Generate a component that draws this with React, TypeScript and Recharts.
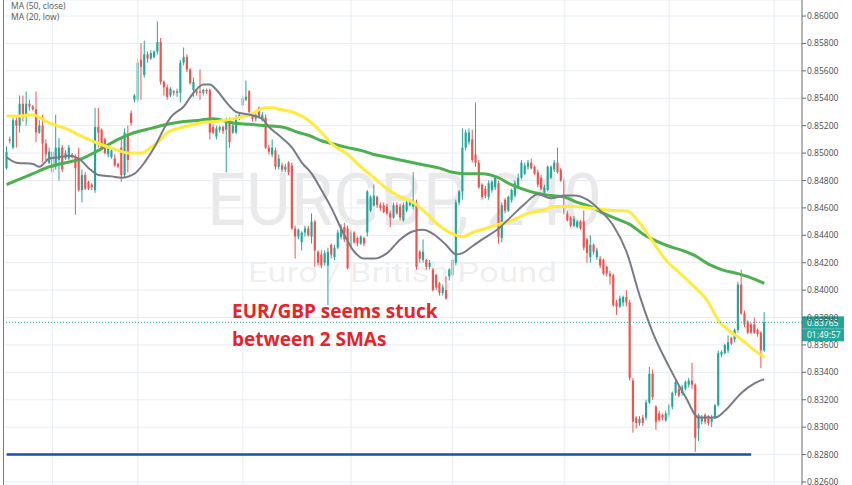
import React from 'react';
import { ComposedChart, Bar, Line, XAxis, YAxis, CartesianGrid, ReferenceLine } from 'recharts';

const W = 852;
const H = 485;

const opens = [
  0.8489,0.8510,0.8504,0.8524,0.8520,0.8536,0.8528,0.8536,0.8534,0.8532,0.8515,0.8520,0.8507,0.8493,0.8501,0.8490,0.8495,0.8504,0.8496,0.8496,
  0.8499,0.8497,0.8495,0.8473,0.8484,0.8479,0.8477,0.8473,0.8519,0.8517,0.8510,0.8499,0.8497,0.8496,0.8492,0.8504,0.8484,0.8513,0.8529,0.8539,
  0.8539,0.8568,0.8557,0.8572,0.8569,0.8570,0.8574,0.8581,0.8552,0.8548,0.8542,0.8545,0.8544,0.8544,0.8566,0.8570,0.8561,0.8546,0.8545,0.8545,
  0.8544,0.8546,0.8546,0.8519,0.8512,0.8517,0.8519,0.8517,0.8524,0.8515,0.8515,0.8526,0.8535,0.8539,0.8545,0.8528,0.8525,0.8533,0.8524,0.8526,
  0.8504,0.8499,0.8502,0.8490,0.8491,0.8488,0.8493,0.8491,0.8445,0.8439,0.8435,0.8442,0.8445,0.8439,0.8450,0.8428,0.8426,0.8420,0.8418,0.8433,
  0.8424,0.8431,0.8439,0.8446,0.8445,0.8431,0.8442,0.8438,0.8434,0.8438,0.8442,0.8458,0.8462,0.8468,0.8462,0.8462,0.8461,0.8456,0.8453,0.8462,
  0.8461,0.8451,0.8458,0.8462,0.8461,0.8464,0.8428,0.8422,0.8422,0.8417,0.8415,0.8411,0.8405,0.8398,0.8400,0.8410,0.8411,0.8420,0.8464,0.8472,
  0.8504,0.8508,0.8510,0.8499,0.8493,0.8477,0.8474,0.8468,0.8473,0.8475,0.8478,0.8438,0.8466,0.8458,0.8466,0.8469,0.8475,0.8482,0.8485,0.8490,
  0.8493,0.8490,0.8486,0.8482,0.8471,0.8473,0.8482,0.8488,0.8493,0.8488,0.8480,0.8456,0.8453,0.8447,0.8446,0.8450,0.8450,0.8437,0.8424,0.8433,
  0.8424,0.8423,0.8422,0.8417,0.8412,0.8411,0.8391,0.8388,0.8391,0.8395,0.8391,0.8334,0.8307,0.8303,0.8307,0.8307,0.8318,0.8339,0.8315,0.8310,
  0.8309,0.8305,0.8309,0.8315,0.8325,0.8328,0.8325,0.8328,0.8331,0.8334,0.8331,0.8299,0.8304,0.8309,0.8308,0.8304,0.8307,0.8316,0.8353,0.8354,
  0.8356,0.8365,0.8364,0.8371,0.8404,0.8383,0.8377,0.8375,0.8375,0.8371,0.8369,0.8356,
];
const highs = [
  0.8505,0.8512,0.8526,0.8526,0.8542,0.8542,0.8545,0.8539,0.8535,0.8545,0.8524,0.8528,0.8510,0.8504,0.8502,0.8528,0.8511,0.8506,0.8502,0.8506,
  0.8500,0.8499,0.8504,0.8488,0.8486,0.8480,0.8478,0.8533,0.8533,0.8518,0.8511,0.8506,0.8504,0.8499,0.8493,0.8511,0.8518,0.8520,0.8531,0.8543,
  0.8569,0.8580,0.8582,0.8574,0.8575,0.8575,0.8596,0.8584,0.8553,0.8550,0.8548,0.8546,0.8547,0.8568,0.8577,0.8572,0.8562,0.8555,0.8547,0.8561,
  0.8547,0.8547,0.8547,0.8521,0.8520,0.8520,0.8520,0.8526,0.8526,0.8523,0.8528,0.8530,0.8542,0.8553,0.8546,0.8529,0.8529,0.8534,0.8530,0.8528,
  0.8506,0.8510,0.8504,0.8499,0.8493,0.8492,0.8494,0.8493,0.8447,0.8445,0.8443,0.8447,0.8447,0.8456,0.8451,0.8429,0.8429,0.8429,0.8431,0.8434,
  0.8433,0.8444,0.8448,0.8449,0.8447,0.8444,0.8443,0.8439,0.8440,0.8439,0.8473,0.8469,0.8477,0.8469,0.8464,0.8464,0.8463,0.8458,0.8464,0.8464,
  0.8463,0.8464,0.8466,0.8466,0.8486,0.8466,0.8429,0.8437,0.8423,0.8422,0.8416,0.8412,0.8406,0.8404,0.8410,0.8416,0.8423,0.8466,0.8473,0.8518,
  0.8517,0.8518,0.8517,0.8537,0.8495,0.8478,0.8476,0.8480,0.8480,0.8483,0.8480,0.8464,0.8467,0.8469,0.8474,0.8480,0.8485,0.8495,0.8493,0.8495,
  0.8496,0.8491,0.8488,0.8484,0.8477,0.8491,0.8491,0.8495,0.8504,0.8489,0.8482,0.8458,0.8454,0.8454,0.8451,0.8451,0.8458,0.8438,0.8440,0.8434,
  0.8431,0.8425,0.8423,0.8418,0.8414,0.8412,0.8393,0.8396,0.8396,0.8400,0.8393,0.8336,0.8308,0.8308,0.8309,0.8320,0.8344,0.8342,0.8316,0.8312,
  0.8310,0.8312,0.8317,0.8326,0.8335,0.8330,0.8331,0.8334,0.8336,0.8347,0.8332,0.8310,0.8309,0.8310,0.8309,0.8309,0.8317,0.8356,0.8356,0.8361,
  0.8367,0.8366,0.8372,0.8406,0.8415,0.8385,0.8378,0.8376,0.8380,0.8372,0.8370,0.8384,
];
const lows = [
  0.8488,0.8507,0.8503,0.8504,0.8515,0.8523,0.8520,0.8531,0.8531,0.8508,0.8514,0.8493,0.8495,0.8492,0.8464,0.8488,0.8480,0.8486,0.8495,0.8495,
  0.8496,0.8455,0.8472,0.8464,0.8473,0.8473,0.8473,0.8471,0.8504,0.8502,0.8499,0.8497,0.8496,0.8490,0.8489,0.8479,0.8482,0.8486,0.8520,0.8537,
  0.8537,0.8539,0.8555,0.8566,0.8568,0.8569,0.8572,0.8550,0.8542,0.8539,0.8541,0.8542,0.8541,0.8537,0.8564,0.8559,0.8550,0.8541,0.8542,0.8539,
  0.8542,0.8543,0.8510,0.8514,0.8510,0.8515,0.8514,0.8486,0.8504,0.8514,0.8514,0.8524,0.8534,0.8538,0.8528,0.8523,0.8523,0.8525,0.8523,0.8503,
  0.8499,0.8497,0.8488,0.8488,0.8486,0.8486,0.8484,0.8444,0.8423,0.8437,0.8429,0.8439,0.8439,0.8434,0.8417,0.8418,0.8416,0.8418,0.8389,0.8423,
  0.8422,0.8430,0.8437,0.8435,0.8415,0.8429,0.8434,0.8432,0.8433,0.8432,0.8439,0.8457,0.8461,0.8460,0.8458,0.8456,0.8455,0.8446,0.8452,0.8455,
  0.8451,0.8450,0.8457,0.8461,0.8459,0.8415,0.8420,0.8420,0.8415,0.8415,0.8399,0.8400,0.8396,0.8396,0.8393,0.8407,0.8409,0.8418,0.8462,0.8466,
  0.8502,0.8506,0.8493,0.8490,0.8474,0.8466,0.8467,0.8466,0.8471,0.8473,0.8434,0.8435,0.8456,0.8457,0.8464,0.8468,0.8474,0.8481,0.8484,0.8488,
  0.8488,0.8484,0.8475,0.8473,0.8469,0.8472,0.8481,0.8486,0.8485,0.8479,0.8455,0.8450,0.8446,0.8446,0.8445,0.8444,0.8429,0.8420,0.8420,0.8426,
  0.8422,0.8416,0.8411,0.8410,0.8404,0.8388,0.8382,0.8387,0.8388,0.8388,0.8334,0.8296,0.8299,0.8301,0.8301,0.8305,0.8317,0.8320,0.8298,0.8304,
  0.8305,0.8304,0.8307,0.8313,0.8323,0.8322,0.8323,0.8327,0.8329,0.8328,0.8282,0.8290,0.8302,0.8302,0.8301,0.8300,0.8306,0.8315,0.8351,0.8353,
  0.8354,0.8360,0.8362,0.8369,0.8382,0.8373,0.8368,0.8368,0.8368,0.8366,0.8343,0.8355,
];
const closes = [
  0.8501,0.8509,0.8524,0.8520,0.8536,0.8528,0.8536,0.8534,0.8532,0.8515,0.8520,0.8507,0.8499,0.8501,0.8486,0.8504,0.8504,0.8488,0.8500,0.8504,
  0.8497,0.8489,0.8473,0.8484,0.8474,0.8474,0.8475,0.8519,0.8515,0.8504,0.8500,0.8504,0.8502,0.8491,0.8490,0.8484,0.8515,0.8495,0.8522,0.8542,
  0.8566,0.8563,0.8572,0.8569,0.8573,0.8574,0.8581,0.8552,0.8548,0.8541,0.8547,0.8544,0.8545,0.8566,0.8570,0.8561,0.8551,0.8552,0.8544,0.8544,
  0.8546,0.8545,0.8515,0.8515,0.8518,0.8519,0.8516,0.8524,0.8508,0.8520,0.8526,0.8528,0.8540,0.8541,0.8530,0.8525,0.8528,0.8526,0.8528,0.8504,
  0.8501,0.8504,0.8490,0.8496,0.8488,0.8490,0.8486,0.8445,0.8439,0.8444,0.8442,0.8445,0.8440,0.8450,0.8429,0.8420,0.8418,0.8427,0.8428,0.8426,
  0.8431,0.8442,0.8446,0.8437,0.8416,0.8442,0.8435,0.8434,0.8439,0.8434,0.8472,0.8468,0.8469,0.8462,0.8460,0.8457,0.8456,0.8453,0.8462,0.8456,
  0.8453,0.8462,0.8464,0.8464,0.8464,0.8417,0.8423,0.8428,0.8417,0.8420,0.8400,0.8402,0.8398,0.8402,0.8394,0.8415,0.8422,0.8464,0.8472,0.8504,
  0.8515,0.8515,0.8495,0.8493,0.8475,0.8468,0.8469,0.8478,0.8479,0.8482,0.8439,0.8462,0.8458,0.8468,0.8473,0.8478,0.8482,0.8493,0.8491,0.8493,
  0.8489,0.8485,0.8477,0.8474,0.8475,0.8490,0.8490,0.8493,0.8486,0.8480,0.8456,0.8451,0.8447,0.8452,0.8450,0.8445,0.8431,0.8427,0.8433,0.8428,
  0.8429,0.8418,0.8412,0.8412,0.8410,0.8389,0.8388,0.8394,0.8395,0.8391,0.8336,0.8304,0.8303,0.8306,0.8303,0.8318,0.8339,0.8322,0.8304,0.8305,
  0.8307,0.8310,0.8316,0.8325,0.8333,0.8323,0.8329,0.8333,0.8334,0.8331,0.8292,0.8309,0.8307,0.8304,0.8303,0.8307,0.8316,0.8354,0.8355,0.8360,
  0.8362,0.8361,0.8371,0.8404,0.8383,0.8375,0.8369,0.8369,0.8369,0.8368,0.8356,0.83765,
];

const maYellow50: [number, number][] = [
  [0,0.8527],[3,0.8527],[8,0.8528],[10,0.8526],[13,0.8522],[18,0.8518],[23,0.8512],[28,0.8507],[34,0.8502],[37,0.8500],
  [41,0.8500],[44,0.8504],[47,0.8510],[49,0.8515],[54,0.8519],[59,0.8522],[64,0.8523],[69,0.8525],[74,0.8528],[79,0.8533],
  [81,0.8533],[83,0.8532],[87,0.8530],[92,0.8524],[96,0.8515],[99,0.8507],[104,0.8499],[108,0.8490],[112,0.8482],[116,0.8474],
  [120,0.8468],[124,0.8464],[128,0.8456],[132,0.8447],[136,0.8441],[139,0.8439],[142,0.8442],[146,0.8445],[150,0.8448],[154,0.8451],
  [159,0.8456],[163,0.8458],[167,0.8461],[173,0.8461],[181,0.8459],[187,0.8458],[189,0.8458],[193,0.8449],[196,0.8439],[201,0.8422],
  [205,0.8413],[209,0.8404],[214,0.8391],[217,0.8378],[220,0.8371],[224,0.8364],[228,0.8356],[231,0.8351],
];
const maGray20: [number, number][] = [
  [0,0.8497],[3,0.8493],[8,0.8492],[10,0.8490],[13,0.8496],[16,0.8497],[19,0.8498],[22,0.8496],[25,0.8489],[28,0.8484],
  [32,0.8483],[35,0.8482],[39,0.8485],[42,0.8493],[45,0.8504],[48,0.8518],[50,0.8526],[54,0.8534],[57,0.8544],[60,0.8550],
  [62,0.8550],[64,0.8546],[67,0.8537],[70,0.8530],[74,0.8528],[78,0.8525],[80,0.8519],[83,0.8513],[87,0.8504],[90,0.8493],
  [93,0.8485],[96,0.8473],[99,0.8460],[103,0.8440],[106,0.8428],[109,0.8423],[112,0.8423],[116,0.8427],[120,0.8437],[124,0.8443],
  [127,0.8444],[130,0.8441],[134,0.8433],[137,0.8426],[139,0.8427],[142,0.8432],[145,0.8437],[150,0.8445],[154,0.8454],[158,0.8463],
  [162,0.8470],[166,0.8467],[170,0.8469],[173,0.8469],[177,0.8466],[181,0.8458],[185,0.8447],[189,0.8428],[193,0.8396],[197,0.8369],
  [202,0.8344],[207,0.8322],[211,0.8307],[216,0.8307],[219,0.8312],[224,0.8325],[228,0.8332],[231,0.8335],
];
const maGreen: [number, number][] = [
  [0,0.8477],[3,0.8480],[8,0.8485],[13,0.8490],[18,0.8493],[23,0.8496],[28,0.8502],[34,0.8510],[39,0.8515],[44,0.8518],
  [49,0.8521],[54,0.8523],[59,0.8524],[63,0.8525],[69,0.8522],[74,0.8521],[79,0.8520],[84,0.8519],[89,0.8515],[92,0.8513],
  [96,0.8509],[99,0.8507],[104,0.8504],[108,0.8502],[112,0.8499],[116,0.8497],[120,0.8495],[124,0.8493],[128,0.8491],[132,0.8489],
  [136,0.8486],[139,0.8485],[145,0.8485],[150,0.8482],[153,0.8478],[157,0.8474],[161,0.8471],[166,0.8469],[170,0.8468],[174,0.8464],
  [178,0.8461],[182,0.8456],[186,0.8452],[190,0.8448],[194,0.8441],[198,0.8436],[202,0.8432],[206,0.8429],[210,0.8425],[214,0.8419],
  [218,0.8415],[223,0.8412],[227,0.8409],[231,0.8405],
];

const yTicks = [0.826,0.828,0.83,0.832,0.834,0.836,0.838,0.84,0.842,0.844,0.846,0.848,0.85,0.852,0.854,0.856,0.858,0.86];
const gridIdx = [14, 40, 72, 105, 136, 170, 202, 234];
const supportLevel = 0.828;
const supportEnd = 227;
const lastPrice = 0.83765;
const countdown = '01:49:57';
const totalSlots = 243;

const toMap = (pts: [number, number][]) => new Map(pts.map(([k, v]) => [k, v]));
const m50 = toMap(maYellow50);
const m20 = toMap(maGray20);
const mG = toMap(maGreen);

const data = Array.from({ length: totalSlots }, (_, i) => {
  const has = i < opens.length;
  return {
    i,
    o: has ? opens[i] : null,
    h: has ? highs[i] : null,
    l: has ? lows[i] : null,
    c: has ? closes[i] : null,
    range: has ? [lows[i], highs[i]] : null,
    ma50: m50.has(i) ? m50.get(i) : null,
    ma20: m20.has(i) ? m20.get(i) : null,
    maG: mG.has(i) ? mG.get(i) : null,
  };
});

const UP = '#26a69a';
const DOWN = '#ef5350';

const Candle = (props: any) => {
  const { x, y, width, height, payload } = props;
  if (!payload || payload.o == null) return null;
  const top = Math.min(y, y + height);
  const bot = Math.max(y, y + height);
  const span = payload.h - payload.l;
  const k = span > 0 ? (bot - top) / span : 0;
  const yOf = (v: number) => top + (payload.h - v) * k;
  const up = payload.c >= payload.o;
  const color = up ? UP : DOWN;
  const cx = x + width / 2;
  const bw = Math.max(1, width * 0.72);
  const yo = yOf(payload.o);
  const yc = yOf(payload.c);
  const bt = Math.min(yo, yc);
  const bh = Math.max(1, Math.abs(yo - yc));
  return (
    <g>
      <line x1={cx} x2={cx} y1={top} y2={bot} stroke={color} strokeWidth={1} />
      <rect x={cx - bw / 2} y={bt} width={bw} height={bh} fill={color} />
    </g>
  );
};

const PriceTag = (props: any) => {
  const vb = props.viewBox || {};
  const x = (vb.x || 0) + (vb.width || 0);
  const y = vb.y || 0;
  return (
    <g>
      <rect x={x} y={y - 6} width={42} height={25} fill={UP} />
      <line x1={x} x2={x + 42} y1={y + 6.5} y2={y + 6.5} stroke="#ffffff" strokeOpacity={0.35} strokeWidth={0.8} />
      <text x={x + 5} y={y + 3.2} fill="#ffffff" fontSize={8.5} fontFamily="Open Sans, sans-serif">{lastPrice.toFixed(5)}</text>
      <text x={x + 5} y={y + 15.8} fill="#ffffff" fontSize={8.5} fontFamily="Open Sans, sans-serif">{countdown}</text>
    </g>
  );
};

export default function App() {
  return (
    <div style={{ position: 'absolute', left: 0, top: 0, width: W, height: H, background: '#ffffff', overflow: 'hidden' }}>
      <svg width={W} height={H} style={{ position: 'absolute', left: 0, top: 0 }}>
        <text x={207} y={225} fontSize={73} fill="#000000" fillOpacity={0.085} fontFamily="Roboto, sans-serif" textLength={395} lengthAdjust="spacingAndGlyphs">EURGBP, 240</text>
        <text x={248} y={282} fontSize={28} fill="#000000" fillOpacity={0.085} fontFamily="Roboto, sans-serif" textLength={309} lengthAdjust="spacingAndGlyphs">Euro / British Pound</text>
      </svg>
      <div style={{ position: 'absolute', left: 0, top: 0 }}>
        <ComposedChart width={W} height={H} data={data} margin={{ top: 0, right: 0, left: 5, bottom: 0 }} barCategoryGap={0} barGap={0}>
          <CartesianGrid vertical={false} stroke="#e7ecf3" />
          {gridIdx.map((g) => (
            <ReferenceLine key={g} x={g} stroke="#e7ecf3" ifOverflow="visible" />
          ))}
          <XAxis dataKey="i" type="category" hide />
          <YAxis
            orientation="right"
            width={50}
            domain={[0.82578, 0.86117]}
            ticks={yTicks}
            interval={0}
            allowDataOverflow
            tickFormatter={(v: number) => v.toFixed(5)}
            tick={{ fontSize: 8.5, fill: '#4a4a4a', fontFamily: 'Open Sans, sans-serif' }}
            tickSize={4}
            tickMargin={1}
            axisLine={{ stroke: '#6a6a6a' }}
            tickLine={{ stroke: '#6a6a6a' }}
          />
          <Bar dataKey="range" shape={Candle} isAnimationActive={false} />
          <Line dataKey="maG" type="monotone" stroke="#4caf50" strokeWidth={3} dot={false} connectNulls isAnimationActive={false} />
          <Line dataKey="ma50" type="monotone" stroke="#ffeb3b" strokeWidth={3} dot={false} connectNulls isAnimationActive={false} />
          <Line dataKey="ma20" type="monotone" stroke="#787b86" strokeWidth={2} dot={false} connectNulls isAnimationActive={false} />
          <ReferenceLine
            segment={[{ x: 0, y: supportLevel }, { x: supportEnd, y: supportLevel }]}
            stroke="#1f4e9e"
            strokeWidth={2.5}
          />
          <ReferenceLine y={lastPrice} stroke={UP} strokeDasharray="1 2" strokeWidth={1} label={(p: any) => <PriceTag {...p} />} />
        </ComposedChart>
      </div>
      <div style={{ position: 'absolute', left: 3, top: 0, width: 1, height: H, background: '#7a7a7a' }} />
      <svg width={W} height={H} style={{ position: 'absolute', left: 0, top: 0, pointerEvents: 'none' }}>
        <text x={11} y={9} fontSize={8.5} fill="#555555" fontFamily="Open Sans, sans-serif">MA (50, close)</text>
        <text x={11} y={20} fontSize={8.5} fill="#555555" fontFamily="Open Sans, sans-serif">MA (20, low)</text>
        <text x={232} y={318} fontSize={19} fontWeight="bold" fill="#e8232a" fontFamily="Open Sans, sans-serif">EUR/GBP seems stuck</text>
        <text x={232} y={346} fontSize={19} fontWeight="bold" fill="#e8232a" fontFamily="Open Sans, sans-serif">between 2 SMAs</text>
      </svg>
    </div>
  );
}
